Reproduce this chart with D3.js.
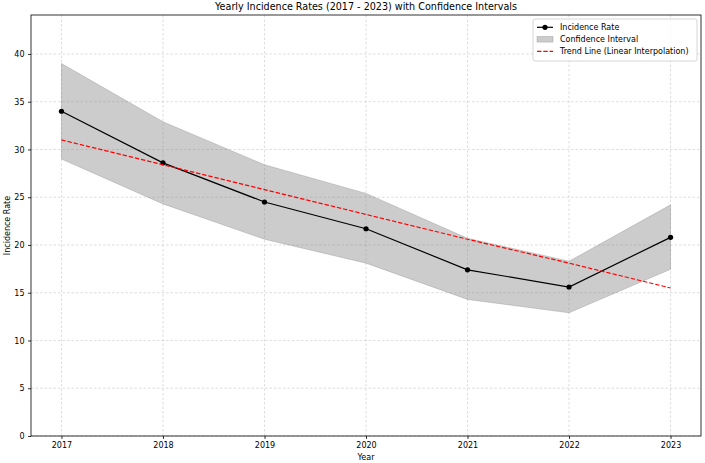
<!DOCTYPE html>
<html><head><meta charset="utf-8">
<script src="https://cdn.jsdelivr.net/npm/d3@7"></script>
<style>body{margin:0;background:#fff}svg{display:block;font-family:"DejaVu Sans",sans-serif}</style>
</head><body><svg id="c" width="705" height="463"></svg>
<script>
const years = [2017, 2018, 2019, 2020, 2021, 2022, 2023];
const incidence = [34.0, 28.6, 24.5, 21.7, 17.4, 15.6, 20.8];
const ciLower = [29.0, 24.3, 20.6, 18.1, 14.3, 12.9, 17.45];
const ciUpper = [39.0, 32.9, 28.4, 25.4, 20.7, 18.3, 24.2];
const trend = [31.0, 28.4, 25.8, 23.2, 20.6, 18.1, 15.5];
const yTicks = [0, 5, 10, 15, 20, 25, 30, 35, 40];
const legendLabels = ["Incidence Rate", "Confidence Interval", "Trend Line (Linear Interpolation)"];

const svg = d3.select("#c");
const L = 31, R = 701, T = 15, B = 436;
const x = d3.scaleLinear().domain([2016.7, 2023.3]).range([L, R]);
const y = d3.scaleLinear().domain([0, 44.08]).range([B, T]);
const FS = 8;

// grid
const g = svg.append("g");
g.selectAll(".gx").data(years).enter().append("line")
  .attr("x1", d => x(d)).attr("x2", d => x(d)).attr("y1", T).attr("y2", B)
  .attr("stroke", "#b0b0b0").attr("stroke-opacity", 0.7).attr("stroke-width", 0.6).attr("stroke-dasharray", "2.5,2");
g.selectAll(".gy").data(yTicks).enter().append("line")
  .attr("x1", L).attr("x2", R).attr("y1", d => y(d)).attr("y2", d => y(d))
  .attr("stroke", "#b0b0b0").attr("stroke-opacity", 0.7).attr("stroke-width", 0.6).attr("stroke-dasharray", "2.5,2");

// CI band
const area = d3.area().x((d, i) => x(years[i])).y0((d, i) => y(ciLower[i])).y1((d, i) => y(ciUpper[i]));
svg.append("path").datum(years).attr("d", area)
  .attr("fill", "#808080").attr("fill-opacity", 0.4).attr("stroke", "#808080").attr("stroke-opacity", 0.4).attr("stroke-width", 0.8);

// incidence line
const line = d3.line().x((d, i) => x(years[i])).y(d => y(d));
svg.append("path").datum(incidence).attr("d", line).attr("fill", "none").attr("stroke", "#000").attr("stroke-width", 1.2);
svg.selectAll(".pt").data(incidence).enter().append("circle")
  .attr("cx", (d, i) => x(years[i])).attr("cy", d => y(d)).attr("r", 2.6).attr("fill", "#000");

// trend
svg.append("path").datum(trend).attr("d", line).attr("fill", "none").attr("stroke", "#ff0000").attr("stroke-width", 1.2).attr("stroke-dasharray", "4.4,1.9");

// axes
const xa = svg.append("g").attr("transform", `translate(0,${B})`)
  .call(d3.axisBottom(x).tickValues(years).tickFormat(d3.format("d")).tickSize(3).tickPadding(3.5));
const ya = svg.append("g").attr("transform", `translate(${L},0)`)
  .call(d3.axisLeft(y).tickValues(yTicks).tickSize(3).tickPadding(3.5));
[xa, ya].forEach(a => {
  a.select(".domain").remove();
  a.selectAll("text").attr("font-family", "DejaVu Sans").attr("font-size", FS).attr("fill", "#000");
  a.selectAll("line").attr("stroke", "#000").attr("stroke-width", 0.8);
});
svg.append("rect").attr("x", L).attr("y", T).attr("width", R - L).attr("height", B - T)
  .attr("fill", "none").attr("stroke", "#000").attr("stroke-width", 0.8);

// labels
svg.append("text").attr("x", (L + R) / 2).attr("y", 10).attr("text-anchor", "middle")
  .attr("font-size", 9.6).text("Yearly Incidence Rates (2017 - 2023) with Confidence Intervals");
svg.append("text").attr("x", (L + R) / 2).attr("y", 460).attr("text-anchor", "middle")
  .attr("font-size", FS).text("Year");
svg.append("text").attr("transform", `translate(9.5,${(T + B) / 2}) rotate(-90)`).attr("text-anchor", "middle")
  .attr("font-size", FS).text("Incidence Rate");

// legend
const lg = svg.append("g").attr("transform", "translate(533,19)");
lg.append("rect").attr("x", 0).attr("y", 0).attr("width", 164).attr("height", 42).attr("rx", 2)
  .attr("fill", "#fff").attr("fill-opacity", 0.8).attr("stroke", "#ccc").attr("stroke-width", 0.8);
const ly = [8.3, 20.3, 32.3];
lg.append("line").attr("x1", 4).attr("x2", 20).attr("y1", ly[0]).attr("y2", ly[0]).attr("stroke", "#000").attr("stroke-width", 1.2);
lg.append("circle").attr("cx", 12).attr("cy", ly[0]).attr("r", 2.6).attr("fill", "#000");
lg.append("rect").attr("x", 4).attr("y", ly[1] - 2.8).attr("width", 16).attr("height", 5.6)
  .attr("fill", "#808080").attr("fill-opacity", 0.4).attr("stroke", "#808080").attr("stroke-opacity", 0.4).attr("stroke-width", 0.8);
lg.append("line").attr("x1", 4).attr("x2", 20).attr("y1", ly[2]).attr("y2", ly[2]).attr("stroke", "#ff0000").attr("stroke-width", 1.2).attr("stroke-dasharray", "4.4,1.9");
lg.selectAll(".lt").data(legendLabels).enter().append("text")
  .attr("x", 27).attr("y", (d, i) => ly[i] + 3).attr("font-size", FS).text(d => d);
</script></body></html>
